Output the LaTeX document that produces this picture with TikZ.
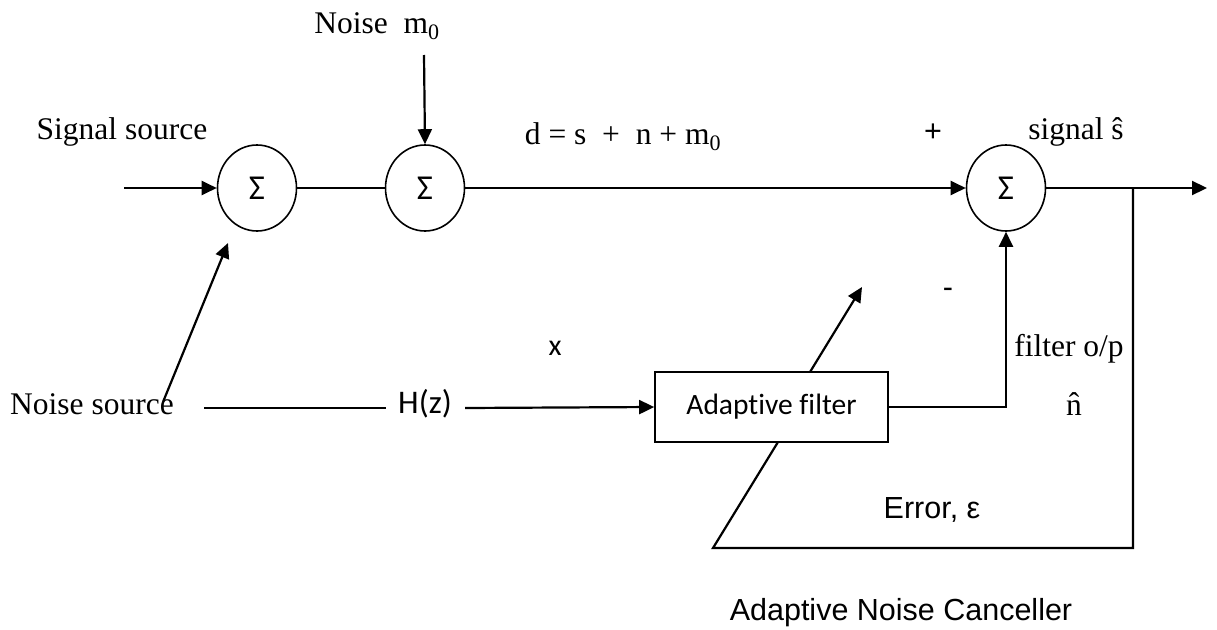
\documentclass[tikz,border=0pt]{standalone}
\usepackage{fontspec}
\setmainfont{Liberation Serif}
\newfontfamily\arialf{Liberation Sans}
\newfontfamily\calf[Ligatures=NoCommon]{Carlito}
\usetikzlibrary{arrows.meta,shapes.geometric}
\tikzset{
  sumnode/.style={draw,ellipse,line width=1.6pt,minimum width=79pt,minimum height=86pt,inner sep=0pt,font=\calf\fontsize{35}{37}\selectfont},
  filterbox/.style={draw,rectangle,line width=1.7pt,fill=white,minimum width=233pt,minimum height=70pt,inner sep=0pt,font=\calf\fontsize{29.5}{32}\selectfont},
  serif/.style={inner sep=0pt,font=\fontsize{31.5}{34}\selectfont},
  sans/.style={inner sep=0pt,font=\arialf\fontsize{30.5}{33}\selectfont},
  csans/.style={inner sep=0pt,font=\calf\fontsize{30}{33}\selectfont},
  wire/.style={line width=2.2pt},
  thinwire/.style={line width=1.5pt},
  arr/.style={wire,-{Triangle[length=15pt,width=14pt]}},
}
\begin{document}
\begin{tikzpicture}[x=1pt,y=-1pt]
\useasboundingbox (0,0) rectangle (1217,629);
% blocks
\node[sumnode] (s1) at (257,188) {Σ};
\node[sumnode] (s2) at (425,188) {Σ};
\node[sumnode] (s3) at (1006,188) {Σ};
% coordinates
\coordinate (in) at (124,188);
\coordinate (nm) at (424,55);
\coordinate (out) at (1207,188);
\coordinate (tap) at (1133,188);
\coordinate (errc) at (1133,548);
\coordinate (errl) at (713,548);
\coordinate (adjlow) at (778,442);
\coordinate (adjhigh) at (810,372);
\coordinate (adjtip) at (862,287);
\coordinate (nsa) at (163,402);
\coordinate (nsb) at (228,243);
\coordinate (ha) at (204,408);
\coordinate (hb) at (386,408);
\coordinate (hc) at (465,408);
% texts
\node[serif] (sigsrc) at (122,132) {Signal source};
\node[serif] (noisem) at (377,26) {Noise\ \ m\textsubscript{0}};
\node[serif] (dlabel) at (623,137) {d = s \ + \ n + m\textsubscript{0}};
\node[sans] (plus) at (933,133) {+};
\node[serif] (sighat) at (1076,132) {signal ŝ};
\node[sans] (minus) at (948,293) {-};
\node[csans] (xl) at (555,348) {x};
\node[serif] (fop) at (1069,349) {filter o/p};
\node[serif] (nhat) at (1074,404) {n\char"0302};
\node[serif] (nsrc) at (92,404) {Noise source};
\node[csans,font=\calf\fontsize{33}{35}\selectfont] (hz) at (425,404) {H(z)};
\node[sans] (err) at (932,510) {Error, ε};
\node[sans] (title) at (901,613) {Adaptive Noise Canceller};
% connectors
\draw[arr] (in) -- (s1.west);
\draw[thinwire] (s1.east) -- (s2.west);
\draw[arr] (nm) -- (s2.north);
\draw[arr] (s2.east) -- (s3.west);
\draw[arr] (s3.east) -- (out);
\draw[wire] (tap) -- (errc) -- (errl) -- (adjlow);
\draw[arr] (adjhigh) -- (adjtip);
\draw[arr] (nsa) -- (nsb);
\draw[thinwire] (ha) -- (hb);
\node[filterbox] (af) at (771.5,407) {Adaptive filter};
\draw[arr] (hc) -- (af.west);
\draw[arr] (af.east) -| (s3.south);
\end{tikzpicture}
\end{document}
